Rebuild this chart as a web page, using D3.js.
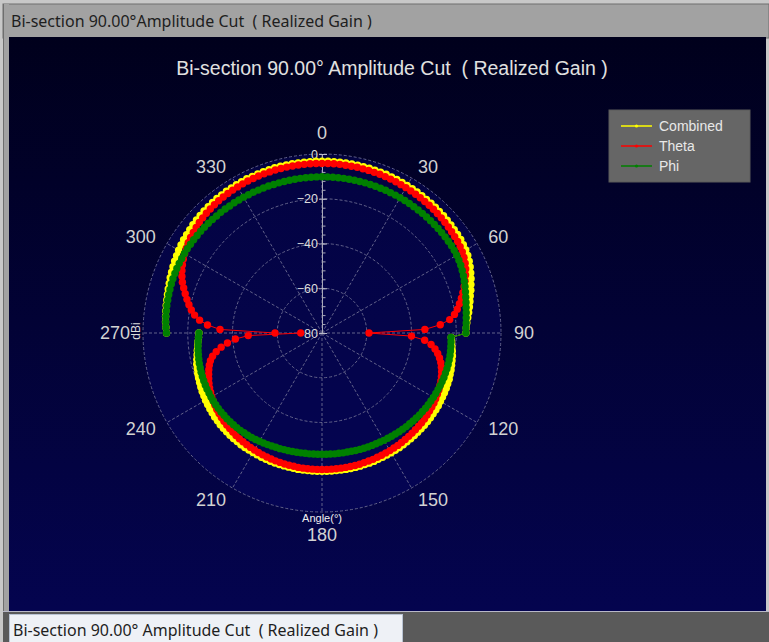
<!DOCTYPE html>
<html>
<head>
<meta charset="utf-8">
<script src="https://cdn.jsdelivr.net/npm/d3@7"></script>
<style>
    body { margin: 0; background: #c9c9c9; overflow: hidden; }
</style>
</head>
<body>
<div id="chart"></div>
<script>
// Data
const windowTitle = "Bi-section 90.00°Amplitude Cut  ( Realized Gain )";
const tabTitle = "Bi-section 90.00° Amplitude Cut  ( Realized Gain )";
const chartTitle = "Bi-section 90.00° Amplitude Cut  ( Realized Gain )";
const seriesNames = ["Combined", "Theta", "Phi"];
const angleTicks = [0, 30, 60, 90, 120, 150, 180, 210, 240, 270, 300, 330];
const radialTicks = [-80, -60, -40, -20, 0];
const radialLabel = "dBi";
const angleLabel = "Angle(°)";

// sample angles, -90 (=270) round to 270, 2 degree step
const angles = d3.range(-90, 272, 2);

// dB values, one per angle
const combinedDb = [
    -10.5, -10.2, -9.9, -9.7, -9.5, -9.3, -9.1, -8.8, -8.5, -8.2,     // 270..288
    -7.8, -7.5, -7.1, -6.7, -6.4, -6.0, -5.7, -5.4, -5.2, -5.0,       // 290..308
    -4.7, -4.5, -4.3, -4.1, -4.0, -3.9, -3.7, -3.7, -3.6, -3.6,       // 310..328
    -3.5, -3.4, -3.3, -3.4, -3.3, -3.3, -3.3, -3.2, -3.2, -3.2,       // 330..348
    -3.2, -3.2, -3.2, -3.2, -3.2,                                     // 350..358
    -3.2, -3.2, -3.2, -3.2, -3.3, -3.3, -3.3, -3.4, -3.4, -3.5,       // 0..18
    -3.5, -3.5, -3.6, -3.7, -3.8, -3.9, -3.9, -4.0, -4.1, -4.2,       // 20..38
    -4.2, -4.3, -4.5, -4.5, -4.7, -4.8, -5.0, -5.1, -5.2, -5.5,       // 40..58
    -5.8, -6.2, -6.8, -7.5, -8.3, -9.1, -10.0, -10.8, -11.7, -12.4,   // 60..78
    -13.1, -13.8, -14.5, -15.1, -15.5,                                // 80..88
    -15.7, -22.2, -21.9, -21.6, -21.2, -20.8, -20.6, -20.3, -20.0, -19.8, // 90..108
    -19.5, -19.4, -19.2, -19.1, -19.0, -18.9, -18.7, -18.6, -18.6, -18.5, // 110..128
    -18.4, -18.4, -18.4, -18.4, -18.3, -18.3, -18.3, -18.2, -18.2, -18.2, // 130..148
    -18.2, -18.2, -18.2, -18.2, -18.1, -18.1, -18.2, -18.1, -18.1, -18.1, // 150..168
    -18.1, -18.2, -18.2, -18.2, -18.2, -18.2, -18.2, -18.2, -18.2, -18.2, // 170..188
    -18.1, -18.2, -18.2, -18.2, -18.2, -18.2, -18.2, -18.2, -18.2, -18.3, // 190..208
    -18.3, -18.3, -18.3, -18.3, -18.4, -18.4, -18.5, -18.6, -18.7, -18.8, // 210..228
    -19.0, -19.1, -19.3, -19.5, -19.7, -19.9, -20.2, -20.4, -20.7, -21.0, // 230..248
    -21.3, -21.6, -22.0, -22.3, -22.8, -23.3, -23.7, -24.1, -24.4, -24.8, // 250..268
    -25.0                                                                 // 270
];

const thetaDb = [
    -59.0, -34.4, -28.7, -25.0, -22.5, -20.7, -19.2, -17.8, -16.4, -15.0, // 270..288
    -13.6, -12.5, -11.5, -10.6, -9.8, -9.1, -8.5, -7.9, -7.4, -7.0,       // 290..308
    -6.6, -6.2, -5.9, -5.6, -5.4, -5.2, -5.0, -4.9, -4.8, -4.7,           // 310..328
    -4.6, -4.5, -4.4, -4.4, -4.3, -4.3, -4.3, -4.2, -4.2, -4.2,           // 330..348
    -4.2, -4.2, -4.2, -4.2, -4.2,                                         // 350..358
    -4.2, -4.2, -4.2, -4.2, -4.3, -4.3, -4.3, -4.4, -4.4, -4.5,           // 0..18
    -4.5, -4.6, -4.7, -4.8, -4.9, -5.0, -5.1, -5.2, -5.3, -5.4,           // 20..38
    -5.5, -5.6, -5.8, -5.9, -6.1, -6.3, -6.5, -6.7, -6.9, -7.2,           // 40..58
    -7.6, -8.1, -8.8, -9.7, -10.8, -12.0, -13.2, -14.5, -15.8, -17.2,     // 60..78
    -18.6, -20.2, -22.6, -27.0, -34.0,                                    // 80..88
    -59.0, -40.0, -34.0, -31.0, -29.0, -27.5, -26.3, -25.3, -24.5, -23.8, // 90..108
    -23.2, -22.7, -22.3, -21.9, -21.6, -21.3, -21.0, -20.8, -20.6, -20.4, // 110..128
    -20.2, -20.1, -20.0, -19.9, -19.8, -19.7, -19.6, -19.5, -19.4, -19.4, // 130..148
    -19.3, -19.3, -19.2, -19.2, -19.1, -19.1, -19.1, -19.0, -19.0, -19.0, // 150..168
    -19.0, -19.0, -19.0, -19.0, -19.0, -19.0, -19.0, -19.0, -19.0, -19.0, // 170..188
    -19.0, -19.1, -19.1, -19.1, -19.2, -19.2, -19.3, -19.3, -19.4, -19.5, // 190..208
    -19.6, -19.7, -19.8, -19.9, -20.0, -20.2, -20.4, -20.6, -20.8, -21.0, // 210..228
    -21.3, -21.6, -21.9, -22.3, -22.7, -23.1, -23.6, -24.1, -24.7, -25.4, // 230..248
    -26.1, -26.8, -27.6, -28.6, -30.0, -32.0, -34.5, -37.5, -41.2, -47.0, // 250..268
    -70.5                                                                 // 270
];

const phiDb = [
    -10.5, -10.2, -10.0, -9.8, -9.7, -9.6, -9.5, -9.4, -9.3, -9.2,        // 270..288
    -9.1, -9.1, -9.0, -9.0, -9.0, -9.0, -9.0, -9.1, -9.1, -9.2,           // 290..308
    -9.2, -9.3, -9.4, -9.5, -9.6, -9.6, -9.7, -9.8, -9.8, -9.9,           // 310..328
    -9.9, -10.0, -10.0, -10.1, -10.1, -10.1, -10.2, -10.2, -10.2, -10.2,  // 330..348
    -10.2, -10.2, -10.2, -10.2, -10.2,                                    // 350..358
    -10.2, -10.2, -10.2, -10.2, -10.2, -10.2, -10.2, -10.2, -10.2, -10.2, // 0..18
    -10.2, -10.2, -10.2, -10.2, -10.2, -10.2, -10.2, -10.2, -10.2, -10.2, // 20..38
    -10.2, -10.2, -10.2, -10.2, -10.2, -10.2, -10.2, -10.2, -10.2, -10.3, // 40..58
    -10.5, -10.7, -11.0, -11.4, -11.8, -12.3, -12.8, -13.3, -13.8, -14.2, // 60..78
    -14.6, -14.9, -15.2, -15.4, -15.6,                                    // 80..88
    -15.7, -22.3, -22.2, -22.1, -22.0, -21.9, -21.9, -21.9, -21.9, -22.0, // 90..108
    -22.0, -22.1, -22.2, -22.3, -22.4, -22.5, -22.6, -22.7, -22.8, -23.0, // 110..128
    -23.1, -23.3, -23.4, -23.6, -23.7, -23.9, -24.0, -24.2, -24.3, -24.5, // 130..148
    -24.6, -24.8, -24.9, -25.0, -25.1, -25.2, -25.3, -25.4, -25.5, -25.6, // 150..168
    -25.6, -25.7, -25.7, -25.8, -25.8, -25.8, -25.8, -25.8, -25.7, -25.7, // 170..188
    -25.6, -25.5, -25.4, -25.3, -25.2, -25.0, -24.9, -24.7, -24.5, -24.3, // 190..208
    -24.1, -23.9, -23.7, -23.5, -23.4, -23.2, -23.1, -23.0, -22.9, -22.8, // 210..228
    -22.8, -22.7, -22.7, -22.7, -22.7, -22.7, -22.8, -22.8, -22.9, -23.0, // 230..248
    -23.1, -23.2, -23.4, -23.5, -23.7, -23.9, -24.1, -24.3, -24.5, -24.8, // 250..268
    -25.0                                                                 // 270
];

class visPolar {

    constructor(parentElement) {
        this.parentElement = parentElement;
        this.initVis();
    }

    initVis() {
        let vis = this;

        vis.width = 769;
        vis.height = 642;
        vis.center = {x: 322, y: 333};
        vis.outerRadius = 179;
        vis.colors = ["#ffff00", "#ff0000", "#008000"];

        vis.svg = d3.select("#" + vis.parentElement).append("svg")
            .attr("width", vis.width)
            .attr("height", vis.height)
            .style("display", "block");

        let defs = vis.svg.append("defs");
        let grad = defs.append("linearGradient")
            .attr("id", "panelGrad")
            .attr("x1", 0).attr("y1", 0).attr("x2", 0).attr("y2", 1);
        grad.append("stop").attr("offset", "0%").attr("stop-color", "#00001c");
        grad.append("stop").attr("offset", "100%").attr("stop-color", "#04044f");

        // window frame
        vis.svg.append("rect")
            .attr("x", 0).attr("y", 0).attr("width", vis.width).attr("height", vis.height)
            .attr("fill", "#c8c8c8");
        vis.svg.append("rect")
            .attr("x", 3).attr("y", 4).attr("width", vis.width - 3).attr("height", 34)
            .attr("fill", "#a2a2a2").attr("stroke", "#6e6e6e").attr("stroke-width", 1);
        vis.svg.append("rect")
            .attr("x", 3).attr("y", 4).attr("width", 6).attr("height", 608)
            .attr("fill", "#a2a2a2");
        vis.svg.append("line")
            .attr("x1", 3.5).attr("x2", 3.5).attr("y1", 4).attr("y2", 612)
            .attr("stroke", "#6e6e6e");
        vis.svg.append("text")
            .attr("x", 11).attr("y", 27)
            .style("font-family", "'Noto Sans', sans-serif")
            .style("font-size", "16px")
            .style("white-space", "pre")
            .attr("fill", "#1e1e1e")
            .text(windowTitle);

        // plot panel
        vis.svg.append("rect")
            .attr("x", 9).attr("y", 37).attr("width", 757).attr("height", 574)
            .attr("fill", "url(#panelGrad)");

        // bottom tab strip
        vis.svg.append("rect")
            .attr("x", 3).attr("y", 612).attr("width", vis.width - 3).attr("height", 30)
            .attr("fill", "#5a5a5a");
        vis.svg.append("line")
            .attr("x1", 3).attr("x2", vis.width).attr("y1", 611.5).attr("y2", 611.5)
            .attr("stroke", "#b8b8c8");
        vis.svg.append("rect")
            .attr("x", 9.5).attr("y", 614.5).attr("width", 393).attr("height", 28)
            .attr("fill", "#eef1f6").attr("stroke", "#b9c3d3");
        vis.svg.append("text")
            .attr("x", 13).attr("y", 636)
            .style("font-family", "'Noto Sans', sans-serif")
            .style("font-size", "16px")
            .style("white-space", "pre")
            .attr("fill", "#1e1e1e")
            .text(tabTitle);

        // chart title
        vis.svg.append("text")
            .attr("x", 392).attr("y", 75)
            .attr("text-anchor", "middle")
            .style("font-family", "'Liberation Sans', Arial, sans-serif")
            .style("font-size", "19.5px")
            .style("white-space", "pre")
            .attr("fill", "#e0e0e0")
            .text(chartTitle);

        vis.g = vis.svg.append("g")
            .attr("transform", `translate(${vis.center.x}, ${vis.center.y})`);

        vis.r = d3.scaleLinear()
            .domain([-80, 0])
            .range([0, vis.outerRadius]);

        vis.wrangleData();
    }

    wrangleData() {
        let vis = this;

        let valueLists = [combinedDb, thetaDb, phiDb];
        vis.series = seriesNames.map((name, i) => {
            return {
                name: name,
                color: vis.colors[i],
                points: angles.map((a, j) => ({angle: a, value: valueLists[i][j]}))
            };
        });

        vis.updateVis();
    }

    updateVis() {
        let vis = this;
        let rad = a => a * Math.PI / 180;

        // disk
        vis.g.append("circle")
            .attr("r", vis.outerRadius)
            .attr("fill", "#08086a")
            .attr("fill-opacity", 0.4);

        // grid circles
        vis.g.selectAll(".grid-circle")
            .data(radialTicks.filter(d => d > -80))
            .enter()
            .append("circle")
            .attr("class", "grid-circle")
            .attr("r", d => vis.r(d))
            .attr("fill", "none")
            .attr("stroke", "#62628a")
            .attr("stroke-width", 1)
            .attr("stroke-dasharray", "3,2");

        // spokes
        vis.g.selectAll(".spoke")
            .data(angleTicks)
            .enter()
            .append("line")
            .attr("class", "spoke")
            .attr("x1", 0).attr("y1", 0)
            .attr("x2", d => vis.outerRadius * Math.sin(rad(d)))
            .attr("y2", d => -vis.outerRadius * Math.cos(rad(d)))
            .attr("stroke", "#62628a")
            .attr("stroke-width", 1)
            .attr("stroke-dasharray", "3,2");

        // angle labels
        let labelR = 192;
        vis.g.selectAll(".angle-label")
            .data(angleTicks)
            .enter()
            .append("text")
            .attr("class", "angle-label")
            .attr("x", d => labelR * Math.sin(rad(d)))
            .attr("y", d => {
                let y = -labelR * Math.cos(rad(d));
                if (d === 0) y -= 8;
                if (d === 180) y += 10;
                return y;
            })
            .attr("dy", "0.35em")
            .attr("text-anchor", d => (d === 0 || d === 180) ? "middle" : (d < 180 ? "start" : "end"))
            .style("font-family", "'Liberation Sans', Arial, sans-serif")
            .style("font-size", "18px")
            .attr("fill", "#d2d2d2")
            .text(d => d);

        // radial axis (dB) with minor ticks
        vis.yAxisScale = d3.scaleLinear().domain([-80, 0]).range([0, -vis.outerRadius]);
        let minor = vis.g.append("g")
            .call(d3.axisLeft(vis.yAxisScale)
                .tickValues(d3.range(-80, 1, 4))
                .tickSizeInner(-3.5)
                .tickSizeOuter(0)
                .tickFormat(""));
        minor.select(".domain").remove();
        minor.selectAll("line").attr("stroke", "#a8a8b8");

        let major = vis.g.append("g")
            .call(d3.axisLeft(vis.yAxisScale)
                .tickValues(radialTicks)
                .tickSizeInner(-5)
                .tickSizeOuter(0)
                .tickPadding(4));
        major.select(".domain").attr("stroke", "#a8a8b8");
        major.selectAll("line").attr("stroke", "#b8b8c8").attr("x1", -3);
        major.selectAll("text")
            .style("font-family", "'Liberation Sans', Arial, sans-serif")
            .style("font-size", "12.5px")
            .attr("fill", "#dcdcdc");

        // axis titles
        vis.g.append("text")
            .attr("transform", `translate(${-186}, -2) rotate(-90)`)
            .attr("text-anchor", "middle")
            .attr("dy", "0.35em")
            .style("font-family", "'Liberation Sans', Arial, sans-serif")
            .style("font-size", "12px")
            .attr("fill", "#dcdcdc")
            .text(radialLabel);
        vis.g.append("text")
            .attr("x", 0).attr("y", 189)
            .attr("text-anchor", "middle")
            .style("font-family", "'Liberation Sans', Arial, sans-serif")
            .style("font-size", "11px")
            .attr("fill", "#f0f0f0")
            .text(angleLabel);

        // traces (open path, the cut starts and ends at 270)
        let line = d3.lineRadial()
            .angle(d => rad(d.angle))
            .radius(d => vis.r(d.value));

        let traces = vis.g.selectAll(".trace")
            .data(vis.series)
            .enter()
            .append("g")
            .attr("class", "trace");

        traces.append("path")
            .attr("d", d => line(d.points))
            .attr("fill", "none")
            .attr("stroke", d => d.color)
            .attr("stroke-width", 1);

        traces.each(function (s) {
            d3.select(this).selectAll("circle")
                .data(s.points)
                .enter()
                .append("circle")
                .attr("cx", d => vis.r(d.value) * Math.sin(rad(d.angle)))
                .attr("cy", d => -vis.r(d.value) * Math.cos(rad(d.angle)))
                .attr("r", 3.7)
                .attr("fill", s.color);
        });

        // legend
        let legend = vis.svg.append("g")
            .attr("transform", "translate(609, 110)");
        legend.append("rect")
            .attr("width", 141).attr("height", 72)
            .attr("fill", "#666666")
            .attr("stroke", "#5a5a5a");
        let rows = legend.selectAll(".legend-row")
            .data(vis.series)
            .enter()
            .append("g")
            .attr("class", "legend-row")
            .attr("transform", (d, i) => `translate(0, ${16 + i * 20})`);
        rows.append("line")
            .attr("x1", 12).attr("x2", 43)
            .attr("stroke", d => d.color)
            .attr("stroke-width", 1.5);
        rows.append("circle")
            .attr("cx", 27.5).attr("r", 1.6)
            .attr("fill", d => d.color);
        rows.append("text")
            .attr("x", 50).attr("dy", "0.35em")
            .style("font-family", "'Liberation Sans', Arial, sans-serif")
            .style("font-size", "14px")
            .attr("fill", "#e8e8e8")
            .text(d => d.name);
    }
}

new visPolar("chart");
</script>
</body>
</html>
